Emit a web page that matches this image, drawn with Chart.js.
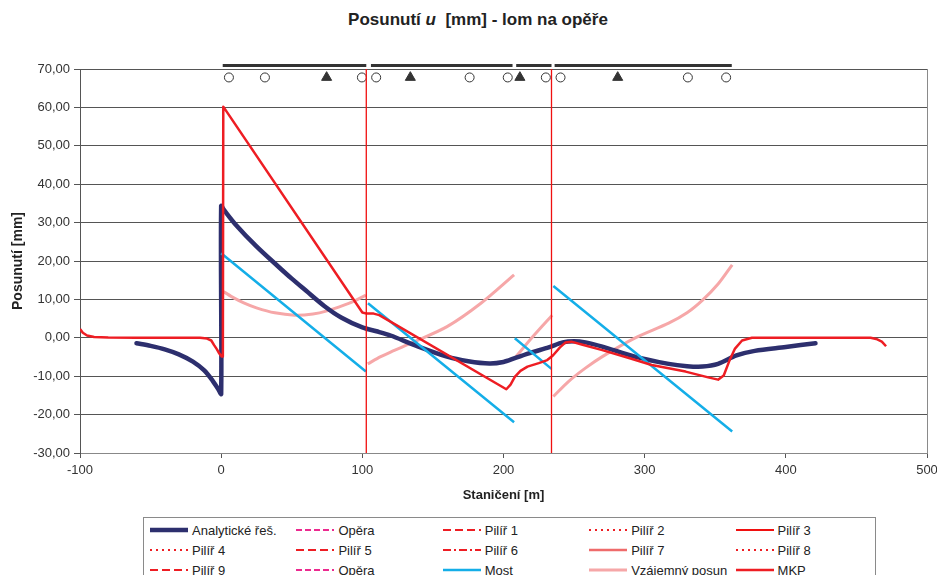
<!DOCTYPE html>
<html>
<head>
<meta charset="utf-8">
<script src="https://cdn.jsdelivr.net/npm/chart.js@4.4.1/dist/chart.umd.min.js"></script>
<style>
  body { margin: 0; background: #fff; font-family: "Liberation Sans", Arial, sans-serif; }
  #wrap { position: relative; width: 937px; height: 575px; overflow: hidden; }
  #title { position: absolute; left: 0; top: 10px; width: 956px; text-align: center;
           font-size: 17px; line-height: 20px; font-weight: bold; color: #222; }
  #c { position: absolute; left: 0; top: 0; }
  #legend { position: absolute; left: 143px; top: 517px; width: 733px; height: 70px;
            border: 1px solid #8a8a8a; padding-top: 2px; box-sizing: border-box;
            display: grid; grid-template-columns: repeat(5, 146.4px); grid-auto-rows: 20px; }
  .item { display: flex; align-items: center; font-size: 13px; color: #222; white-space: nowrap; }
  .item svg { margin-left: 6px; margin-right: 4px; flex: none; }
</style>
</head>
<body>
<div id="wrap">
  <div id="title">Posunutí <i>u</i>&nbsp; [mm] - lom na opěře</div>
  <canvas id="c" width="937" height="515"></canvas>
  <div id="legend"></div>
</div>
<script>
// staničení [m], posunutí [mm]
const analytic = [
  [-60,-1.4],[-50,-2.1],[-40,-3.0],[-30,-4.3],[-20,-6.2],[-12,-8.5],[-6,-11.2],[-2,-13.4],[0,-14.6],
  [0,34.3],[2,33.3],[10,29.6],[25,23.8],[40,18.7],[50,15.4],[60,12.3],[73,8.3],[85,5.3],[100,2.7],
  [110,1.7],[120,0.6],[137,-1.9],[160,-4.9],[175,-6.1],[190,-6.7],[200,-6.3],[208,-5.3],[220,-3.8],
  [232,-2.5],[242,-1.2],[250,-0.9],[258,-1.2],[270,-2.3],[293,-4.9],[317,-6.8],[330,-7.4],[341,-7.5],
  [352,-6.8],[365,-4.6],[378,-3.4],[400,-2.4],[421,-1.4]
];
const mkp = [
  [-100,2.3],[-98,1.3],[-95,0.6],[-90,0.2],[-80,0.05],[-60,0],[-15,0],[-10,-0.2],[-7,-0.7],[-5,-1.9],
  [-3,-3.0],[-1.5,-4.0],[0.5,-4.9],[1.2,-4.9],[1.5,60.2],[100,6.6],[103,6.3],[108,6.3],[112,5.9],
  [202,-13.4],[205,-12.2],[208,-10.2],[212,-8.6],[217,-7.5],[225,-6.6],[231,-5.8],[235,-4.6],[240,-2.5],
  [244,-1.2],[248,-1.0],[256,-1.8],[270,-3.2],[290,-5.4],[305,-7.1],[329,-8.8],[345,-10.3],[352,-10.9],
  [356,-9.8],[360,-6.0],[364,-2.8],[369,-0.7],[376,0],[460,0],[464,-0.3],[468,-1.0],[471,-2.2]
];
const most = [
  [0,22.0],[102.5,-8.8],[103,null],
  [104,9.0],[207.5,-22.0],[207.8,null],
  [208,-0.1],[234,-8.1],[234.5,null],
  [235.3,13.5],[362,-24.4]
];
const vzajemny = [
  [0,12.4],[8,10.6],[16,9.1],[25,7.8],[38,6.5],[52,5.9],[65,6.2],[75,7.0],[87,8.5],[95,9.7],[102.5,11.1],[103,null],
  [103.8,-6.8],[113,-4.9],[120,-3.7],[137,-1.0],[160,2.9],[184,9.0],[207.5,16.4],[207.8,null],
  [208,-5.3],[221,0.4],[234.5,5.9],[235,null],
  [235.3,-15.3],[246,-11.4],[258,-7.9],[270,-4.9],[293,-0.1],[317,3.8],[330,6.5],[341,9.8],[352,14.0],[362,19.0]
];
const pierLines = [[102.8,-30],[102.8,70],[103,null],[234,-30],[234,70]];
// nosná konstrukce a ložiska nad grafem
const deckY = 70.9;
const deckSpans = [[1.1,102.8],[106.1,206.4],[209,234],[236.2,361.7]];
const bearingY = 67.8;
const slidingBearings = [5.5,31.0,99.7,109.8,176.0,203.0,230.0,240.4,330.6,357.7];
const fixedBearings = [74.7,134.0,211.6,280.9];
const yTicks = { min: -30, max: 70, step: 10 };
const xTicks = { min: -100, max: 500, step: 100 };

const pts = arr => arr.map(([x, y]) => ({ x, y }));
const deck = [];
deckSpans.forEach(([a, b]) => { deck.push({ x: a, y: deckY }, { x: b, y: deckY }, { x: b + 0.1, y: null }); });

const RED = '#ee1d23';
const MAG = '#ec2a8f';
const line = (label, data, color, width, extra) => Object.assign({
  label, data: pts(data), borderColor: color, backgroundColor: color, borderWidth: width,
  pointRadius: 0, showLine: true, fill: false, tension: 0, spanGaps: false,
  borderJoinStyle: 'round', order: 5
}, extra || {});

const datasets = [
  line('Analytické řeš.', analytic, '#2d2f6e', 4.5, { order: 3, borderCapStyle: 'round', tension: 0.3 }),
  line('Opěra', [], MAG, 2, { borderDash: [6, 3] }),
  line('Pilíř 1', [], RED, 2, { borderDash: [8, 4] }),
  line('Pilíř 2', [], RED, 2, { borderDash: [2, 4] }),
  line('Pilíř 3', pierLines, '#f01010', 1.3, { order: 0 }),
  line('Pilíř 4', [], RED, 2, { borderDash: [2, 4] }),
  line('Pilíř 5', [], RED, 2, { borderDash: [8, 4] }),
  line('Pilíř 6', [], RED, 2, { borderDash: [8, 3, 2, 3] }),
  line('Pilíř 7', [], '#ef6b6b', 2.5),
  line('Pilíř 8', [], RED, 2, { borderDash: [2, 4] }),
  line('Pilíř 9', [], RED, 2, { borderDash: [8, 4] }),
  line('Opěra', [], MAG, 2, { borderDash: [6, 3] }),
  line('Most', most, '#14aee8', 2.5, { order: 2 }),
  line('Vzájemný posun', vzajemny, '#f6a7a8', 3, { order: 4, tension: 0.3 }),
  line('MKP', mkp, RED, 2.5, { order: 1 }),
  { label: 'deck', data: deck, borderColor: '#333', borderWidth: 3, pointRadius: 0, showLine: true,
    spanGaps: false, clip: false, noLegend: true, order: 0 },
  { label: 'sliding', data: slidingBearings.map(x => ({ x, y: bearingY })), showLine: false,
    pointStyle: 'circle', pointRadius: 4.5, pointBorderWidth: 1, pointBorderColor: '#333',
    pointBackgroundColor: '#fff', noLegend: true, clip: false, order: 0 },
  { label: 'fixed', data: fixedBearings.map(x => ({ x, y: bearingY })), showLine: false,
    pointStyle: 'triangle', pointRadius: 5.8, pointBorderWidth: 1, pointBorderColor: '#333',
    pointBackgroundColor: '#333', noLegend: true, clip: false, order: 0 }
];

const plotFrame = {
  id: 'plotFrame',
  afterDraw(chart) {
    const { ctx, chartArea: a } = chart;
    ctx.save();
    ctx.strokeStyle = '#8a8a8a';
    ctx.lineWidth = 1;
    ctx.beginPath();
    ctx.moveTo(Math.round(a.right) + 0.5, a.top);
    ctx.lineTo(Math.round(a.right) + 0.5, a.bottom);
    ctx.stroke();
    ctx.restore();
  }
};

Chart.defaults.font.family = '"Liberation Sans", Arial, sans-serif';
Chart.defaults.color = '#333';

const chart = new Chart(document.getElementById('c'), {
  type: 'scatter',
  data: { datasets },
  options: {
    responsive: false,
    animation: false,
    events: [],
    layout: { padding: { top: 69, right: 0, left: 0, bottom: 0 } },
    plugins: { legend: { display: false }, tooltip: { enabled: false }, title: { display: false } },
    scales: {
      x: {
        type: 'linear', min: xTicks.min, max: xTicks.max,
        ticks: { stepSize: xTicks.step, font: { size: 13 }, padding: 5, color: '#333' },
        grid: { drawOnChartArea: false, drawTicks: true, tickLength: 5, color: '#555' },
        border: { color: '#888' },
        title: { display: true, text: 'Staničení [m]', font: { size: 13, weight: 'bold' }, color: '#222', padding: { top: 0, bottom: 12 } },
        afterFit: s => { s.height = 62; s.paddingRight = 10; s.paddingLeft = 0; }
      },
      y: {
        min: yTicks.min, max: yTicks.max,
        ticks: { stepSize: yTicks.step, font: { size: 13 }, padding: 4, color: '#333',
                 callback: v => v.toFixed(2).replace('.', ',') },
        grid: { color: '#555', tickLength: 6 },
        border: { color: '#555' },
        title: { display: true, text: 'Posunutí [mm]', font: { size: 14, weight: 'bold' }, color: '#222', padding: { top: 10, bottom: 0 } },
        afterFit: s => { s.width = 80; }
      }
    }
  },
  plugins: [plotFrame]
});

// legenda v mřížce 5 sloupců
const legend = document.getElementById('legend');
chart.data.datasets.filter(d => !d.noLegend).forEach(d => {
  const item = document.createElement('div');
  item.className = 'item';
  const dash = d.borderDash ? d.borderDash.join(',') : 'none';
  item.innerHTML = '<svg width="38" height="8"><line x1="0" y1="4" x2="38" y2="4" stroke="' + d.borderColor +
    '" stroke-width="' + Math.max(d.borderWidth, 2) + '" stroke-dasharray="' + dash + '"/></svg>';
  const span = document.createElement('span');
  span.textContent = d.label;
  item.appendChild(span);
  legend.appendChild(item);
});
</script>
</body>
</html>
